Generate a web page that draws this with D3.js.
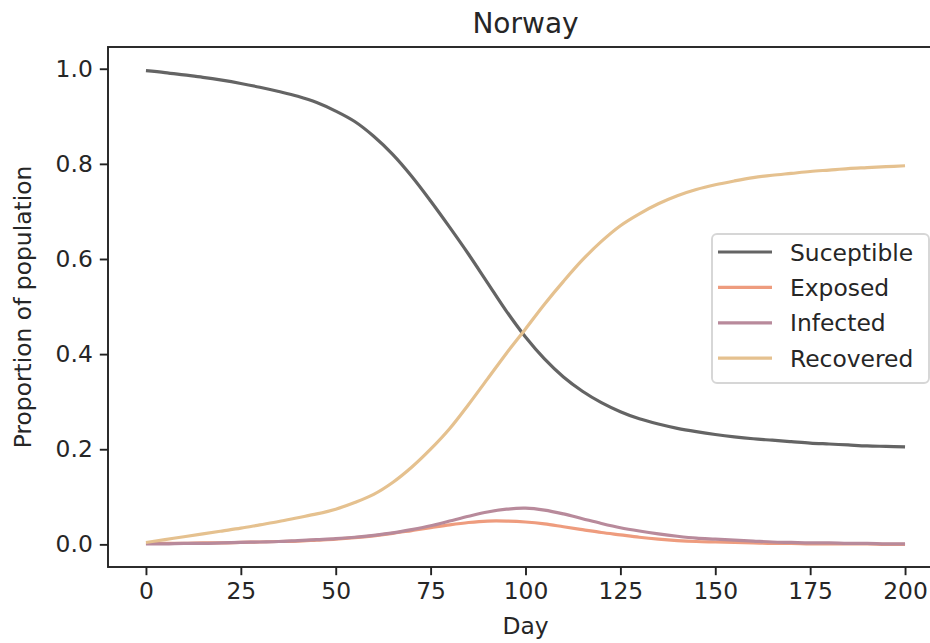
<!DOCTYPE html>
<html>
<head>
<meta charset="utf-8">
<script src="https://cdn.jsdelivr.net/npm/d3@7"></script>
<style>
  html, body { margin: 0; padding: 0; background: #fff; overflow: hidden; }
  svg { display: block; font-family: "DejaVu Sans", sans-serif; }
</style>
</head>
<body>
<svg id="chart" width="930" height="643"></svg>
<script>
const title = "Norway";
const xLabel = "Day";
const yLabel = "Proportion of population";
const seriesNames = ["Suceptible", "Exposed", "Infected", "Recovered"];
const seriesColors = ["#646464", "#ee9c7e", "#b88a9b", "#e5c18f"];
const days = [0,5,10,15,20,25,30,35,40,45,50,55,60,65,70,75,80,85,90,95,100,
  105,110,115,120,125,130,135,140,145,150,155,160,165,170,175,180,185,190,195,200];
const susceptible = [0.996,0.992,0.987,0.982,0.976,0.969,0.961,0.952,0.942,0.929,0.911,
  0.889,0.858,0.820,0.774,0.722,0.667,0.610,0.550,0.490,0.436,
  0.390,0.352,0.322,0.298,0.279,0.264,0.253,0.244,0.237,0.231,
  0.226,0.222,0.219,0.216,0.213,0.211,0.209,0.207,0.206,0.205];
const exposed = [0.002,0.002,0.002,0.003,0.003,0.004,0.005,0.006,0.007,0.009,0.011,
  0.014,0.018,0.023,0.029,0.035,0.041,0.046,0.049,0.049,0.047,
  0.043,0.037,0.031,0.025,0.020,0.015,0.011,0.008,0.006,0.005,
  0.004,0.003,0.002,0.002,0.001,0.001,0.001,0.001,0.000,0.000];
const infected = [0.001,0.001,0.002,0.002,0.003,0.004,0.005,0.006,0.008,0.010,0.012,
  0.015,0.019,0.024,0.031,0.039,0.049,0.059,0.068,0.074,0.076,
  0.072,0.064,0.054,0.044,0.035,0.028,0.022,0.017,0.013,0.011,
  0.009,0.007,0.005,0.004,0.003,0.003,0.002,0.002,0.001,0.001];
const recovered = [0.004,0.010,0.016,0.022,0.028,0.034,0.041,0.048,0.056,0.064,0.074,
  0.088,0.105,0.130,0.162,0.200,0.243,0.294,0.348,0.402,0.453,
  0.505,0.553,0.598,0.637,0.670,0.695,0.716,0.733,0.746,0.756,
  0.764,0.771,0.776,0.780,0.784,0.787,0.790,0.792,0.794,0.796];
const xTicks = [0,25,50,75,100,125,150,175,200];
const yTicks = [0.0,0.2,0.4,0.6,0.8,1.0];

const seriesValues = [susceptible, exposed, infected, recovered];

const svg = d3.select("#chart");
const plot = {left: 108, right: 943, top: 47, bottom: 567};
const fs = 23.4;

const x = d3.scaleLinear().domain([-10, 210]).range([plot.left, plot.right]);
const y = d3.scaleLinear().domain([-0.0476, 1.0457]).range([plot.bottom, plot.top]);

// lines
const line = d3.line().x(d => x(d[0])).y(d => y(d[1])).curve(d3.curveCatmullRom.alpha(0.5));
const g = svg.append("g");
seriesValues.forEach((vals, i) => {
  g.append("path")
    .datum(days.map((dd, k) => [dd, vals[k]]))
    .attr("fill", "none")
    .attr("stroke", seriesColors[i])
    .attr("stroke-width", 3.2)
    .attr("stroke-linejoin", "round")
    .attr("stroke-linecap", "butt")
    .attr("d", line);
});

// axes
const xAxis = d3.axisBottom(x).tickValues(xTicks).tickFormat(d3.format("d")).tickSize(8.2).tickPadding(7);
const yAxis = d3.axisLeft(y).tickValues(yTicks).tickFormat(d3.format(".1f")).tickSize(8.2).tickPadding(7);

const gx = svg.append("g").attr("transform", `translate(0,${plot.bottom})`).call(xAxis);
const gy = svg.append("g").attr("transform", `translate(${plot.left},0)`).call(yAxis);
[gx, gy].forEach(ax => {
  ax.select(".domain").remove();
  ax.selectAll(".tick line").attr("stroke", "#222").attr("stroke-width", 1.9);
  ax.selectAll(".tick text").attr("fill", "#262626").style("font-size", fs + "px")
    .style("font-family", "'DejaVu Sans', sans-serif");
});

// spines
svg.append("rect")
  .attr("x", plot.left).attr("y", plot.top)
  .attr("width", plot.right - plot.left).attr("height", plot.bottom - plot.top)
  .attr("fill", "none").attr("stroke", "#222").attr("stroke-width", 1.9);

// title & labels
svg.append("text").attr("x", (plot.left + plot.right) / 2).attr("y", 33)
  .attr("text-anchor", "middle").style("font-size", "28px").attr("fill", "#262626").text(title);
svg.append("text").attr("x", (plot.left + plot.right) / 2).attr("y", 634)
  .attr("text-anchor", "middle").style("font-size", fs + "px").attr("fill", "#262626").text(xLabel);
svg.append("text")
  .attr("transform", `translate(31,${(plot.top + plot.bottom) / 2}) rotate(-90)`)
  .attr("text-anchor", "middle").style("font-size", fs + "px").attr("fill", "#262626").text(yLabel);

// legend
const lg = svg.append("g");
lg.append("rect").attr("x", 712).attr("y", 234).attr("width", 217).attr("height", 149)
  .attr("rx", 5).attr("fill", "#fff").attr("fill-opacity", 0.85)
  .attr("stroke", "#d6d6d6").attr("stroke-width", 1.9);
seriesNames.forEach((name, i) => {
  const yy = 252 + i * 35.4;
  lg.append("line").attr("x1", 718).attr("x2", 772).attr("y1", yy).attr("y2", yy)
    .attr("stroke", seriesColors[i]).attr("stroke-width", 3.2);
  lg.append("text").attr("x", 790).attr("y", yy + 8.5)
    .style("font-size", fs + "px").attr("fill", "#262626").text(name);
});
</script>
</body>
</html>
